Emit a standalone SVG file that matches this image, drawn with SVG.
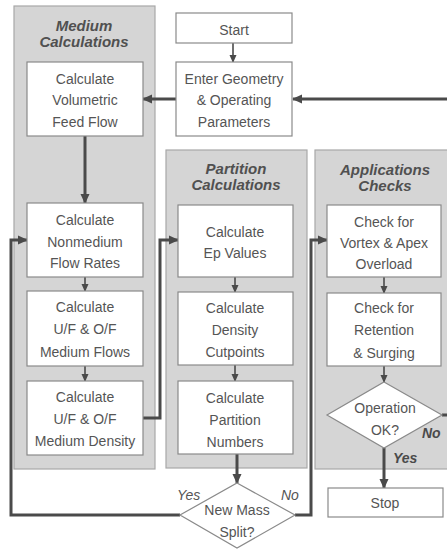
<svg xmlns="http://www.w3.org/2000/svg" width="447" height="549" viewBox="0 0 447 549">
<defs>
<style>
.panel{fill:#d5d5d5;stroke:#a8a8a8;stroke-width:1.2}
.box{fill:#fff;stroke:#8a8a8a;stroke-width:1.2}
.t{font-family:"Liberation Sans",Arial,sans-serif;font-size:14px;fill:#555;text-anchor:middle}
.title{font-family:"Liberation Sans",Arial,sans-serif;font-size:15px;font-weight:bold;font-style:italic;fill:#505050;text-anchor:middle}
.lbl{font-family:"Liberation Sans",Arial,sans-serif;font-size:14px;font-style:italic;fill:#555}
.lblb{font-family:"Liberation Sans",Arial,sans-serif;font-size:14px;font-style:italic;font-weight:bold;fill:#4a4a4a}
.thick{fill:none;stroke:#4a4a4a;stroke-width:3}
.thin{fill:none;stroke:#4a4a4a;stroke-width:1.6}
</style>
<marker id="ah" markerUnits="userSpaceOnUse" markerWidth="10" markerHeight="10" refX="9" refY="5" orient="auto">
<path d="M0,0.5 L10,5 L0,9.5 z" fill="#4a4a4a"/>
</marker>
<marker id="as" markerUnits="userSpaceOnUse" markerWidth="8" markerHeight="8" refX="7" refY="4" orient="auto">
<path d="M0,0.5 L8,4 L0,7.5 z" fill="#4a4a4a"/>
</marker>
</defs>
<rect width="447" height="549" fill="#fff"/>

<g id="panel-medium">
<rect class="panel" x="14" y="6" width="141" height="463"/>
<text class="title" x="84" y="31">Medium</text>
<text class="title" x="84" y="47">Calculations</text>
</g>
<g id="panel-partition">
<rect class="panel" x="166" y="150" width="141" height="318"/>
<text class="title" x="236" y="174">Partition</text>
<text class="title" x="236" y="190">Calculations</text>
</g>
<g id="panel-applications">
<rect class="panel" x="315" y="150" width="145" height="319"/>
<text class="title" x="385" y="175">Applications</text>
<text class="title" x="385" y="191">Checks</text>
</g>

<g id="connectors">
<line class="thin" x1="233" y1="43" x2="233" y2="62" marker-end="url(#as)"/>
<line class="thick" x1="450" y1="99" x2="293" y2="99" marker-end="url(#ah)"/>
<line class="thick" x1="176" y1="99" x2="143" y2="99" marker-end="url(#ah)"/>
<line class="thick" x1="85" y1="136" x2="85" y2="203" marker-end="url(#ah)"/>
<line class="thin" x1="85" y1="277" x2="85" y2="291" marker-end="url(#as)"/>
<line class="thin" x1="85" y1="366" x2="85" y2="381" marker-end="url(#as)"/>
<polyline class="thick" points="143,418 160,418 160,240 178,240" marker-end="url(#ah)"/>
<line class="thin" x1="235" y1="277" x2="235" y2="292" marker-end="url(#as)"/>
<line class="thin" x1="235" y1="365" x2="235" y2="381" marker-end="url(#as)"/>
<line class="thick" x1="237" y1="454" x2="237" y2="483" marker-end="url(#ah)"/>
<polyline class="thick" points="180,515 11,515 11,240 27,240" marker-end="url(#ah)"/>
<polyline class="thick" points="295,515 311,515 311,240 327,240" marker-end="url(#ah)"/>
<line class="thin" x1="384" y1="277" x2="384" y2="293" marker-end="url(#as)"/>
<line class="thin" x1="384" y1="366" x2="384" y2="382" marker-end="url(#as)"/>
<line class="thick" x1="384" y1="448" x2="384" y2="488" marker-end="url(#ah)"/>
<line class="thick" x1="442" y1="415" x2="450" y2="415"/>
<text class="lbl" x="177" y="500">Yes</text>
<text class="lbl" x="281" y="500">No</text>
<text class="lblb" x="393" y="463">Yes</text>
<text class="lblb" x="422" y="438">No</text>
</g>

<g id="start">
<rect class="box" x="176" y="13" width="116" height="30"/>
<text class="t" x="234" y="35">Start</text>
</g>
<g id="enter-geometry">
<rect class="box" x="176" y="62" width="116" height="74"/>
<text class="t" x="234" y="84">Enter Geometry</text>
<text class="t" x="234" y="105">&amp; Operating</text>
<text class="t" x="234" y="127">Parameters</text>
</g>
<g id="volumetric-feed">
<rect class="box" x="27" y="62" width="116" height="74"/>
<text class="t" x="85" y="84">Calculate</text>
<text class="t" x="85" y="105">Volumetric</text>
<text class="t" x="85" y="127">Feed Flow</text>
</g>
<g id="nonmedium-flow">
<rect class="box" x="27" y="203" width="116" height="74"/>
<text class="t" x="85" y="225">Calculate</text>
<text class="t" x="85" y="247">Nonmedium</text>
<text class="t" x="85" y="268">Flow Rates</text>
</g>
<g id="medium-flows">
<rect class="box" x="27" y="291" width="116" height="75"/>
<text class="t" x="85" y="312">Calculate</text>
<text class="t" x="85" y="334">U/F &amp; O/F</text>
<text class="t" x="85" y="357">Medium Flows</text>
</g>
<g id="medium-density">
<rect class="box" x="27" y="381" width="116" height="74"/>
<text class="t" x="85" y="402">Calculate</text>
<text class="t" x="85" y="424">U/F &amp; O/F</text>
<text class="t" x="85" y="446">Medium Density</text>
</g>
<g id="ep-values">
<rect class="box" x="178" y="205" width="115" height="72"/>
<text class="t" x="235" y="237">Calculate</text>
<text class="t" x="235" y="258">Ep Values</text>
</g>
<g id="density-cutpoints">
<rect class="box" x="178" y="292" width="115" height="73"/>
<text class="t" x="235" y="313">Calculate</text>
<text class="t" x="235" y="335">Density</text>
<text class="t" x="235" y="357">Cutpoints</text>
</g>
<g id="partition-numbers">
<rect class="box" x="178" y="381" width="115" height="73"/>
<text class="t" x="235" y="403">Calculate</text>
<text class="t" x="235" y="425">Partition</text>
<text class="t" x="235" y="447">Numbers</text>
</g>
<g id="new-mass-split">
<polygon class="box" points="237,483 295,515 237,548 180,515"/>
<text class="t" x="237" y="515">New Mass</text>
<text class="t" x="237" y="537">Split?</text>
</g>
<g id="vortex-apex">
<rect class="box" x="327" y="205" width="114" height="72"/>
<text class="t" x="384" y="227">Check for</text>
<text class="t" x="384" y="248">Vortex &amp; Apex</text>
<text class="t" x="384" y="269">Overload</text>
</g>
<g id="retention-surging">
<rect class="box" x="327" y="293" width="114" height="73"/>
<text class="t" x="384" y="313">Check for</text>
<text class="t" x="384" y="335">Retention</text>
<text class="t" x="384" y="358">&amp; Surging</text>
</g>
<g id="operation-ok">
<polygon class="box" points="384,382 442,415 384,448 327,415"/>
<text class="t" x="385" y="413">Operation</text>
<text class="t" x="385" y="435">OK?</text>
</g>
<g id="stop">
<rect class="box" x="328" y="488" width="115" height="29"/>
<text class="t" x="385" y="508">Stop</text>
</g>
</svg>
